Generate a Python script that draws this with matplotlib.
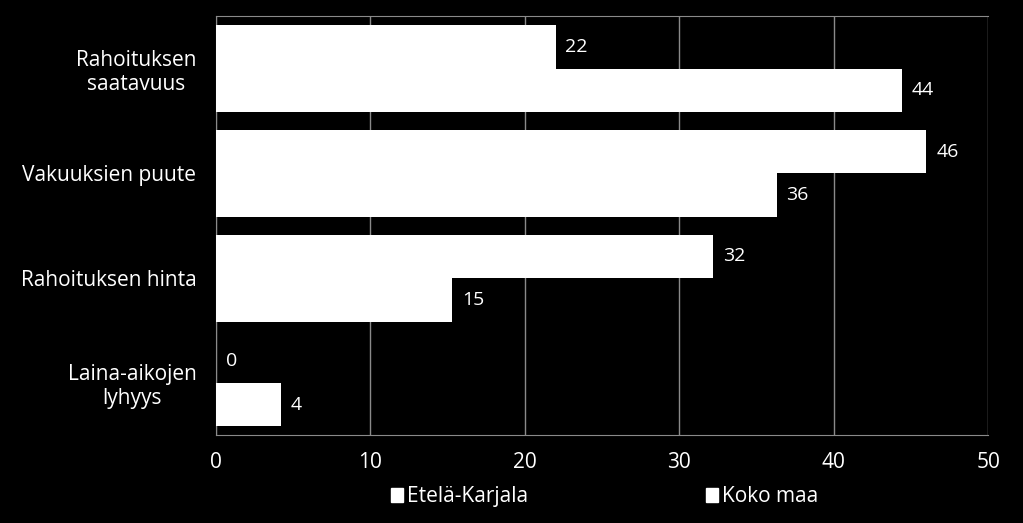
import numpy as np
import matplotlib.pyplot as plt
from matplotlib.patches import Patch

categories = ['Rahoituksen\nsaatavuus', 'Vakuuksien puute', 'Rahoituksen hinta', 'Laina-aikojen\nlyhyys']
etela_karjala = [22.0, 46.0, 32.2, 0.0]
koko_maa = [44.4, 36.3, 15.3, 4.2]
series_names = ['Etelä-Karjala', 'Koko maa']

plt.rcParams['font.family'] = ['Open Sans', 'DejaVu Sans']

fig = plt.figure(figsize=(10.23, 5.23), dpi=100, facecolor='black')
ax = fig.add_axes([0.211, 0.168, 0.755, 0.801], facecolor='black')

y = np.arange(len(categories))
h = 0.415
bars1 = ax.barh(y - h / 2, etela_karjala, height=h, color='white', zorder=3)
bars2 = ax.barh(y + h / 2, koko_maa, height=h, color='white', zorder=3)

for bars in (bars1, bars2):
    for b in bars:
        w = b.get_width()
        ax.annotate(f'{w:.0f}', (w, b.get_y() + b.get_height() / 2),
                    xytext=(7, 0), textcoords='offset points',
                    ha='left', va='center', color='white', fontsize=14)

ax.set_xlim(0, 50)
ax.set_ylim(3.5, -0.5)
ax.set_xticks(range(0, 51, 10))
ax.set_yticks(y)
ax.set_yticklabels(categories, multialignment='center')
ax.tick_params(axis='both', colors='white', labelsize=15, length=0)
ax.tick_params(axis='x', pad=12)
ax.tick_params(axis='y', pad=14)
ax.grid(axis='x', color='#8a8a8a', linewidth=1, zorder=0)
for s in ax.spines.values():
    s.set_color('#8a8a8a')
ax.spines['right'].set_visible(False)

handles = [Patch(facecolor='white', edgecolor='white') for _ in series_names]
leg = fig.legend(handles, series_names, loc='center', bbox_to_anchor=(0.591, 0.05),
                 ncol=2, frameon=False, fontsize=15, handlelength=0.6, handleheight=0.6,
                 handletextpad=0.2, columnspacing=8.5)
for t in leg.get_texts():
    t.set_color('white')

fig.savefig('out.png', dpi=100, facecolor='black')
